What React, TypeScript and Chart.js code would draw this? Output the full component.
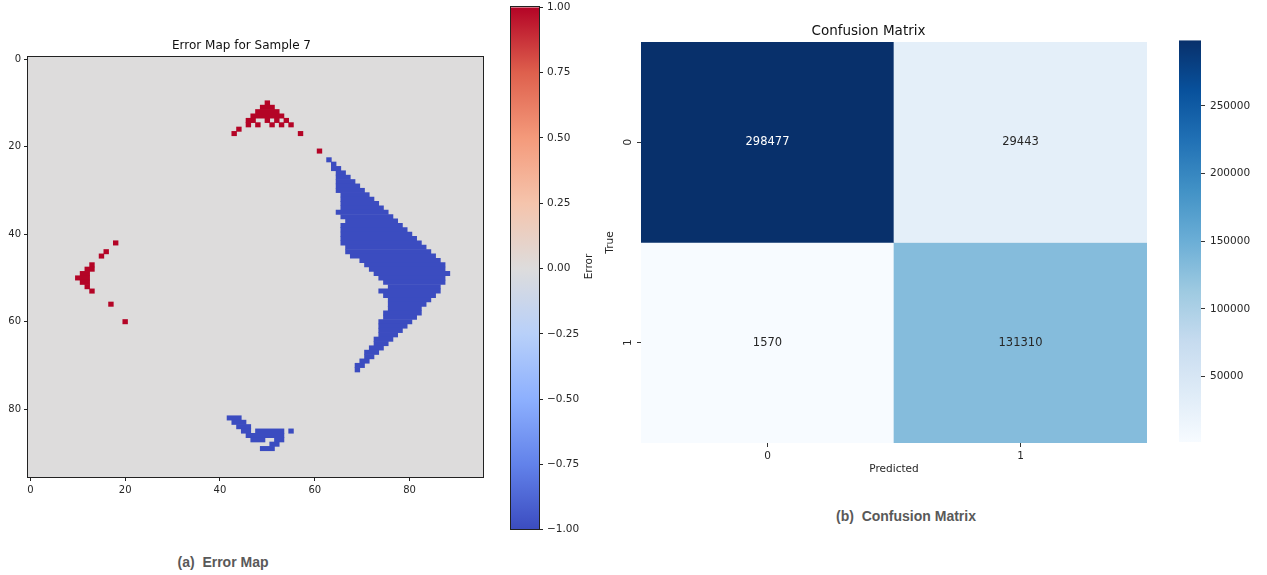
import React, { useEffect, useRef } from 'react';
import { Chart, registerables } from 'chart.js';

Chart.register(...registerables);

const FONT = '"DejaVu Sans", Verdana, sans-serif';
const TEXT = '#262626';

// ---------------- Error map data ----------------
const GRID_SIZE = 96;
const MAP_ROWS: string[] = Array.from({ length: GRID_SIZE }, (_, i) => String(i));
const MAP_X_TICKS = [0, 20, 40, 60, 80];
const MAP_Y_TICKS = [0, 20, 40, 60, 80];
const ERROR_MIN = -1;
const ERROR_MAX = 1;
const ERROR_TICKS = [-1, -0.75, -0.5, -0.25, 0, 0.25, 0.5, 0.75, 1];
const RED_VALUE = 1;
const BLUE_VALUE = -1;

// [row, firstColumn, lastColumn] runs of cells with error +1
const RED_RUNS: [number, number, number][] = [
  [10, 50, 50],
  [11, 49, 51],
  [12, 48, 52],
  [13, 47, 53],
  [14, 46, 47], [14, 50, 50], [14, 52, 52], [14, 54, 54],
  [15, 46, 46], [15, 48, 48], [15, 51, 51], [15, 53, 53], [15, 55, 55],
  [16, 44, 44],
  [17, 43, 43], [17, 57, 57],
  [21, 61, 61],
  [42, 18, 18],
  [44, 16, 16],
  [45, 15, 15],
  [47, 13, 13],
  [48, 12, 13],
  [49, 11, 12],
  [50, 10, 12],
  [51, 11, 12],
  [52, 12, 12],
  [53, 13, 13],
  [56, 17, 17],
  [60, 20, 20],
];

// [row, firstColumn, lastColumn] runs of cells with error -1
const BLUE_RUNS: [number, number, number][] = [
  [23, 63, 63],
  [24, 64, 64],
  [25, 64, 65],
  [26, 65, 66],
  [27, 65, 67],
  [28, 65, 68],
  [29, 65, 69],
  [30, 65, 70],
  [31, 66, 71],
  [32, 66, 72],
  [33, 66, 73],
  [34, 66, 74],
  [35, 65, 75],
  [36, 66, 76],
  [37, 67, 77],
  [38, 66, 78],
  [39, 66, 79],
  [40, 66, 80],
  [41, 66, 81],
  [42, 66, 82],
  [43, 67, 83],
  [44, 67, 84],
  [45, 68, 85],
  [46, 70, 86],
  [47, 71, 87],
  [48, 72, 87],
  [49, 73, 88],
  [50, 74, 87],
  [51, 75, 87],
  [52, 76, 86],
  [53, 74, 86],
  [54, 75, 85],
  [55, 76, 84],
  [56, 76, 83],
  [57, 76, 82],
  [58, 75, 82],
  [59, 75, 81],
  [60, 74, 80],
  [61, 74, 79],
  [62, 74, 78],
  [63, 74, 77],
  [64, 73, 76],
  [65, 73, 75],
  [66, 72, 74],
  [67, 71, 73],
  [68, 71, 72],
  [69, 70, 71],
  [70, 69, 70],
  [71, 69, 69],
  [82, 42, 44],
  [83, 43, 45],
  [84, 44, 46],
  [85, 45, 46], [85, 48, 53], [85, 55, 55],
  [86, 46, 53],
  [87, 47, 49], [87, 52, 53],
  [88, 51, 52],
  [89, 49, 51],
];

// ---------------- Confusion matrix data ----------------
const CM_LABELS = ['0', '1'];
const CM_TRUE0 = [298477, 29443];
const CM_TRUE1 = [1570, 131310];
const CM_CBAR_TICKS = [50000, 100000, 150000, 200000, 250000];

// ---------------- colormaps ----------------
const COOLWARM: [number, string][] = [
  [0, '#3b4cc0'], [0.125, '#6282ea'], [0.25, '#8db0fe'], [0.375, '#b8d0f9'],
  [0.5, '#dddcdc'], [0.625, '#f5c4ac'], [0.75, '#f49a7b'], [0.875, '#de604d'], [1, '#b40426'],
];
const BLUES: [number, string][] = [
  [0, '#f7fbff'], [0.125, '#deebf7'], [0.25, '#c6dbef'], [0.375, '#9ecae1'],
  [0.5, '#6baed6'], [0.625, '#4292c6'], [0.75, '#2171b5'], [0.875, '#08519c'], [1, '#08306b'],
];

function hexToRgb(h: string): number[] {
  const n = parseInt(h.slice(1), 16);
  return [(n >> 16) & 255, (n >> 8) & 255, n & 255];
}
function sampleMap(cmap: [number, string][], t: number): number[] {
  const tt = Math.max(0, Math.min(1, t));
  for (let i = 1; i < cmap.length; i++) {
    if (tt <= cmap[i][0]) {
      const [p0, h0] = cmap[i - 1];
      const [p1, h1] = cmap[i];
      const f = (tt - p0) / (p1 - p0);
      const a = hexToRgb(h0);
      const b = hexToRgb(h1);
      return a.map((v, k) => Math.round(v + (b[k] - v) * f));
    }
  }
  return hexToRgb(cmap[cmap.length - 1][1]);
}
const rgbStr = (c: number[]) => `rgb(${c[0]},${c[1]},${c[2]})`;
const errColor = (v: number) => rgbStr(sampleMap(COOLWARM, (v - ERROR_MIN) / (ERROR_MAX - ERROR_MIN)));

const CM_MATRIX = [CM_TRUE0, CM_TRUE1];
const CM_ALL = CM_MATRIX.flat();
const CM_MIN = Math.min(...CM_ALL);
const CM_MAX = Math.max(...CM_ALL);
const cmT = (v: number) => (v - CM_MIN) / (CM_MAX - CM_MIN);

// ---------------- helpers ----------------
function runsToDatasets(runs: [number, number, number][], value: number) {
  const byRow = new Map<number, [number, number][]>();
  runs.forEach(([r, a, b]) => {
    if (!byRow.has(r)) byRow.set(r, []);
    byRow.get(r)!.push([a, b]);
  });
  let maxK = 0;
  byRow.forEach((l) => { l.sort((p, q) => p[0] - q[0]); maxK = Math.max(maxK, l.length); });
  const color = errColor(value);
  const out: any[] = [];
  for (let k = 0; k < maxK; k++) {
    out.push({
      data: MAP_ROWS.map((_, r) => {
        const l = byRow.get(r);
        return l && l[k] ? [l[k][0] - 0.5, l[k][1] + 0.5] : null;
      }),
      backgroundColor: color,
      borderWidth: 0,
    });
  }
  return out;
}

const framePlugin = (color: string) => ({
  id: 'frame',
  afterDatasetsDraw(chart: any) {
    const { ctx, chartArea: a } = chart;
    ctx.save();
    ctx.strokeStyle = color;
    ctx.lineWidth = 1;
    ctx.strokeRect(Math.round(a.left) - 0.5, Math.round(a.top) - 0.5, Math.round(a.width) + 1, Math.round(a.height) + 1);
    ctx.restore();
  },
});

const areaFill = (color: string) => ({
  id: 'areaFill',
  beforeDatasetsDraw(chart: any) {
    const { ctx, chartArea: a } = chart;
    ctx.save();
    ctx.fillStyle = color;
    ctx.fillRect(a.left, a.top, a.width, a.height);
    ctx.restore();
  },
});

function gradientFill(cmap: [number, string][], lo: number, hi: number) {
  return (c: any) => {
    const chart = c.chart;
    const y = chart.scales && chart.scales.y;
    if (!chart.chartArea || !y) return 'rgba(0,0,0,0)';
    const g = chart.ctx.createLinearGradient(0, y.getPixelForValue(lo), 0, y.getPixelForValue(hi));
    cmap.forEach(([p, h]) => g.addColorStop(p, h));
    return g;
  };
}

const tickFont = (size: number) => ({ family: FONT, size });

// ---------------- chart configs ----------------
function errorMapConfig(): any {
  return {
    type: 'bar',
    data: {
      labels: MAP_ROWS,
      datasets: [...runsToDatasets(RED_RUNS, RED_VALUE), ...runsToDatasets(BLUE_RUNS, BLUE_VALUE)],
    },
    options: {
      indexAxis: 'y',
      animation: false,
      responsive: false,
      events: [],
      layout: { padding: { left: 0, right: 17, top: 0, bottom: 0 } },
      datasets: { bar: { grouped: false, barPercentage: 1, categoryPercentage: 1 } },
      scales: {
        x: {
          type: 'linear',
          min: -0.5,
          max: GRID_SIZE - 0.5,
          afterBuildTicks: (s: any) => { s.ticks = MAP_X_TICKS.map((v) => ({ value: v })); },
          afterFit: (s: any) => { s.height = 33; },
          ticks: { font: tickFont(10), color: TEXT, padding: 3, maxRotation: 0, autoSkip: false },
          grid: { drawOnChartArea: false, tickLength: 4, tickColor: '#222', tickWidth: 1 },
          border: { display: false },
        },
        y: {
          type: 'category',
          afterBuildTicks: (s: any) => { s.ticks = MAP_Y_TICKS.map((v) => ({ value: v })); },
          afterFit: (s: any) => { s.width = 28; },
          ticks: { font: tickFont(10), color: TEXT, padding: 3, autoSkip: false },
          grid: { offset: false, drawOnChartArea: false, tickLength: 4, tickColor: '#222', tickWidth: 1 },
          border: { display: false },
        },
      },
      plugins: {
        legend: { display: false },
        tooltip: { enabled: false },
        title: {
          display: true,
          text: 'Error Map for Sample 7',
          color: '#111',
          font: { family: FONT, size: 12, weight: 'normal' },
          padding: { top: 8.6, bottom: 4 },
        },
      },
    },
    plugins: [areaFill(errColor(0)), framePlugin('#222')],
  };
}

const errorLabelPlugin = {
  id: 'errorLabel',
  afterDraw(chart: any) {
    const { ctx, chartArea: a } = chart;
    ctx.save();
    ctx.translate(a.right + 50, (a.top + a.bottom) / 2 - 2);
    ctx.rotate(-Math.PI / 2);
    ctx.font = `10.5px ${FONT}`;
    ctx.fillStyle = TEXT;
    ctx.textAlign = 'center';
    ctx.textBaseline = 'middle';
    ctx.fillText('Error', 0, 0);
    ctx.restore();
  },
};

function errorCbarConfig(): any {
  return {
    type: 'bar',
    data: {
      labels: ['Error'],
      datasets: [{ data: [[ERROR_MIN, ERROR_MAX]], backgroundColor: gradientFill(COOLWARM, ERROR_MIN, ERROR_MAX), borderWidth: 0 }],
    },
    options: {
      animation: false,
      responsive: false,
      events: [],
      layout: { padding: { left: 6, right: 0, top: 6, bottom: 6 } },
      datasets: { bar: { barPercentage: 1, categoryPercentage: 1, inflateAmount: 0 } },
      scales: {
        x: { display: false },
        y: {
          type: 'linear',
          position: 'right',
          min: ERROR_MIN,
          max: ERROR_MAX,
          afterBuildTicks: (s: any) => { s.ticks = ERROR_TICKS.map((v) => ({ value: v })); },
          afterFit: (s: any) => { s.width = 76; },
          ticks: {
            font: tickFont(10.5),
            color: TEXT,
            padding: 4,
            callback: (v: number) => (v < 0 ? '\u2212' : '') + Math.abs(v).toFixed(2),
          },
          grid: { drawOnChartArea: false, tickLength: 4, tickColor: '#222' },
          border: { display: false },
        },
      },
      plugins: { legend: { display: false }, tooltip: { enabled: false } },
    },
    plugins: [framePlugin('#222'), errorLabelPlugin],
  };
}

const cmAnnotPlugin = {
  id: 'cmAnnot',
  afterDatasetsDraw(chart: any) {
    const { ctx } = chart;
    const { x, y } = chart.scales;
    const n = CM_LABELS.length;
    ctx.save();
    ctx.font = `11.5px ${FONT}`;
    ctx.textAlign = 'center';
    ctx.textBaseline = 'middle';
    CM_MATRIX.forEach((row, i) =>
      row.forEach((v, j) => {
        const c = sampleMap(BLUES, cmT(v));
        const lum = (0.299 * c[0] + 0.587 * c[1] + 0.114 * c[2]) / 255;
        ctx.fillStyle = lum < 0.5 ? '#ffffff' : TEXT;
        ctx.fillText(String(v), x.getPixelForValue(j), y.getPixelForValue(n - 1 - i + 0.5));
      })
    );
    ctx.restore();
  },
};

function confusionConfig(): any {
  const n = CM_LABELS.length;
  return {
    type: 'bar',
    data: {
      labels: CM_LABELS,
      datasets: CM_MATRIX.map((row, i) => ({
        data: row.map(() => [n - 1 - i, n - i]),
        backgroundColor: row.map((v) => rgbStr(sampleMap(BLUES, cmT(v)))),
        borderWidth: 0,
      })),
    },
    options: {
      animation: false,
      responsive: false,
      events: [],
      layout: { padding: { left: 0, right: 23, top: 0, bottom: 0 } },
      datasets: { bar: { grouped: false, barPercentage: 1, categoryPercentage: 1 } },
      scales: {
        x: {
          type: 'category',
          afterFit: (s: any) => { s.height = 42; },
          ticks: { font: tickFont(10.5), color: TEXT, padding: 3, maxRotation: 0 },
          grid: { offset: false, drawOnChartArea: false, tickLength: 4, tickColor: '#333' },
          border: { display: false },
          title: { display: true, text: 'Predicted', color: TEXT, font: { family: FONT, size: 10.5 }, padding: { top: 0, bottom: 9.7 } },
        },
        y: {
          type: 'linear',
          min: 0,
          max: n,
          afterBuildTicks: (s: any) => { s.ticks = CM_LABELS.map((_, i) => ({ value: n - 1 - i + 0.5 })); },
          afterFit: (s: any) => { s.width = 51; },
          ticks: {
            font: tickFont(10.5),
            color: TEXT,
            padding: 5,
            minRotation: 90,
            maxRotation: 90,
            crossAlign: 'center',
            callback: (v: number) => CM_LABELS[n - 1 - Math.floor(v)],
          },
          grid: { drawOnChartArea: false, tickLength: 4, tickColor: '#333' },
          border: { display: false },
          title: { display: true, text: 'True', color: TEXT, font: { family: FONT, size: 10.5 }, padding: { top: 13.7, bottom: 0 } },
        },
      },
      plugins: {
        legend: { display: false },
        tooltip: { enabled: false },
        title: {
          display: true,
          text: 'Confusion Matrix',
          color: '#111',
          font: { family: FONT, size: 13.5, weight: 'normal' },
          padding: { top: 8.4, bottom: 2.4 },
        },
      },
    },
    plugins: [cmAnnotPlugin],
  };
}

function cmCbarConfig(): any {
  return {
    type: 'bar',
    data: {
      labels: ['count'],
      datasets: [{ data: [[CM_MIN, CM_MAX]], backgroundColor: gradientFill(BLUES, CM_MIN, CM_MAX), borderWidth: 0 }],
    },
    options: {
      animation: false,
      responsive: false,
      events: [],
      layout: { padding: { left: 9, right: 0, top: 10, bottom: 17 } },
      datasets: { bar: { barPercentage: 1, categoryPercentage: 1, inflateAmount: 0 } },
      scales: {
        x: { display: false },
        y: {
          type: 'linear',
          position: 'right',
          min: CM_MIN,
          max: CM_MAX,
          afterBuildTicks: (s: any) => { s.ticks = CM_CBAR_TICKS.map((v) => ({ value: v })); },
          afterFit: (s: any) => { s.width = 66; },
          ticks: { font: tickFont(10.5), color: TEXT, padding: 5, callback: (v: number) => String(v) },
          grid: { drawOnChartArea: false, tickLength: 4, tickColor: '#333' },
          border: { display: false },
        },
      },
      plugins: { legend: { display: false }, tooltip: { enabled: false } },
    },
  };
}

const captionStyle = (cx: number, cy: number): React.CSSProperties => ({
  position: 'absolute',
  left: cx,
  top: cy,
  transform: 'translate(-50%, -50%)',
  whiteSpace: 'pre',
  font: 'bold 14px "Liberation Sans", Arial, sans-serif',
  color: '#595959',
});

export default function App() {
  const mapRef = useRef<HTMLCanvasElement>(null);
  const cbarRef = useRef<HTMLCanvasElement>(null);
  const cmRef = useRef<HTMLCanvasElement>(null);
  const cmBarRef = useRef<HTMLCanvasElement>(null);

  useEffect(() => {
    const charts = [
      new Chart(mapRef.current!, errorMapConfig()),
      new Chart(cbarRef.current!, errorCbarConfig()),
      new Chart(cmRef.current!, confusionConfig()),
      new Chart(cmBarRef.current!, cmCbarConfig()),
    ];
    return () => charts.forEach((c) => c.destroy());
  }, []);

  const abs = (l: number, t: number, w: number, h: number): React.CSSProperties => ({
    position: 'absolute', left: l, top: t, width: w, height: h,
  });

  return (
    <div style={{ position: 'absolute', left: 0, top: 0, width: 1267, height: 575, background: '#fff', overflow: 'hidden' }}>
      <canvas ref={mapRef} width={500} height={480} style={abs(0, 30, 500, 480)} />
      <canvas ref={cbarRef} width={110} height={543} style={abs(505, -3, 110, 543)} />
      <canvas ref={cmRef} width={580} height={470} style={abs(590, 15, 580, 470)} />
      <canvas ref={cmBarRef} width={97} height={430} style={abs(1170, 29, 97, 430)} />
      <div style={captionStyle(223, 562)}>(a)  Error Map</div>
      <div style={captionStyle(906, 516)}>(b)  Confusion Matrix</div>
    </div>
  );
}
